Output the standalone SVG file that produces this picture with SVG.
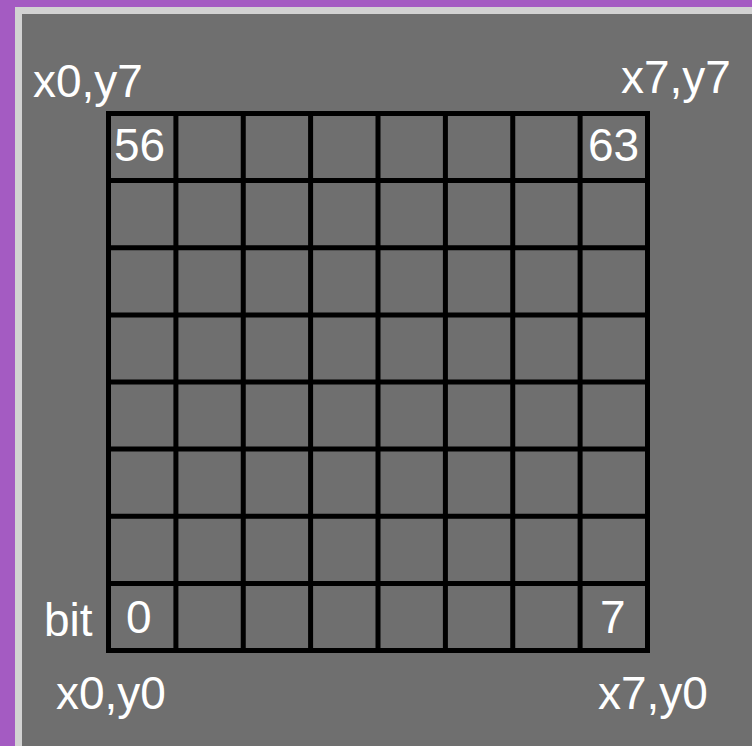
<svg xmlns="http://www.w3.org/2000/svg" width="752" height="746" viewBox="0 0 752 746">
<style>
.t{font-family:"Liberation Sans",Arial,sans-serif;font-size:46px;fill:#ffffff}
.g{stroke:#000000;stroke-width:5;fill:none}
</style>
<rect x="0" y="0" width="752" height="746" fill="#a45bc2"/>
<rect x="15" y="7" width="737" height="739" fill="#d2d2d2"/>
<rect x="22" y="14" width="730" height="732" fill="#6f6f6f"/>
<g id="grid" class="g">
<rect x="108.5" y="113.5" width="539" height="537"/>
<path d="M175.9 113.5V650.5M243.25 113.5V650.5M310.6 113.5V650.5M378 113.5V650.5M445.4 113.5V650.5M512.75 113.5V650.5M580.1 113.5V650.5"/>
<path d="M108.5 180.6H647.5M108.5 247.75H647.5M108.5 314.9H647.5M108.5 382H647.5M108.5 449.1H647.5M108.5 516.25H647.5M108.5 583.4H647.5"/>
</g>
<g id="labels">
<text class="t" x="33" y="97">x0,y7</text>
<text class="t" x="621" y="93">x7,y7</text>
<text class="t" x="114" y="161">56</text>
<text class="t" x="588" y="161">63</text>
<text class="t" x="44" y="636">bit</text>
<text class="t" x="126" y="633">0</text>
<text class="t" x="600" y="633">7</text>
<text class="t" x="56" y="709">x0,y0</text>
<text class="t" x="598" y="709">x7,y0</text>
</g>
</svg>
